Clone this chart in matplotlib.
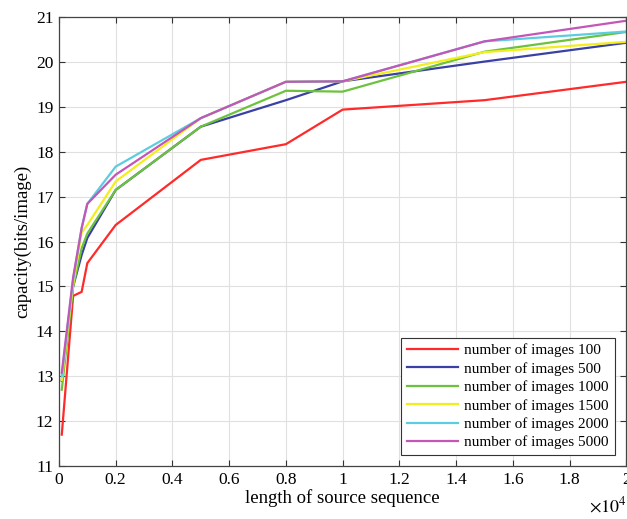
import matplotlib
matplotlib.use("Agg")
import matplotlib.pyplot as plt
import numpy as np

plt.rcParams['font.family'] = ['Liberation Serif', 'DejaVu Serif']
plt.rcParams['mathtext.fontset'] = 'stix'

x_len = [100, 500, 800, 1000, 2000, 5000, 8000, 10000, 15000, 20000]

cap_100 = [11.70, 14.79, 14.88, 15.52, 16.37, 17.82, 18.17, 18.94, 19.15, 19.56]
cap_500 = [12.90, 15.00, 15.70, 16.08, 17.15, 18.56, 19.15, 19.57, 20.01, 20.43]
cap_1000 = [12.70, 15.00, 15.85, 16.18, 17.15, 18.56, 19.36, 19.34, 20.23, 20.67]
cap_1500 = [12.92, 15.05, 16.20, 16.37, 17.34, 18.75, 19.56, 19.57, 20.22, 20.45]
cap_2000 = [13.00, 15.15, 16.30, 16.84, 17.67, 18.75, 19.56, 19.57, 20.46, 20.68]
cap_5000 = [13.08, 15.20, 16.30, 16.84, 17.49, 18.75, 19.56, 19.57, 20.46, 20.92]

labels = ["number of images 100", "number of images 500", "number of images 1000",
          "number of images 1500", "number of images 2000", "number of images 5000"]
colors = ["#ff2a2a", "#3a40a4", "#6cc23c", "#f2ee1c", "#5ccde0", "#c456b8"]
series = [cap_100, cap_500, cap_1000, cap_1500, cap_2000, cap_5000]

fig = plt.figure(figsize=(6.27, 5.19), dpi=100)
ax = fig.add_axes([0.094, 0.102, 0.905, 0.865])

xs = np.array(x_len) / 1e4
for ys, c, lab in zip(series, colors, labels):
    ax.plot(xs, ys, color=c, lw=1.6, label=lab)

ax.set_xlim(0, 2)
ax.set_ylim(11, 21)
ax.set_xticks(np.arange(0, 2.01, 0.2))
ax.set_xticklabels(["0", "0.2", "0.4", "0.6", "0.8", "1", "1.2", "1.4", "1.6", "1.8", "2"])
ax.set_yticks(np.arange(11, 22, 1))
ax.grid(True, color="#e0e0e0", lw=0.8)
ax.tick_params(direction="in", top=True, right=True, labelsize=12.5, length=4,
               color="#333333", pad=4)
for s in ax.spines.values():
    s.set_color("#444444")
    s.set_linewidth(0.9)

ax.set_xlabel("length of source sequence", fontsize=13.5, labelpad=1)
ax.set_ylabel("capacity(bits/image)", fontsize=13.5, labelpad=3)

fig.text(0.94, 0.006, r"$\times10^4$", fontsize=13, ha="left", va="bottom")

leg = ax.legend(loc="lower right", fontsize=11, frameon=True, fancybox=False,
                framealpha=1, edgecolor="#333333", handlelength=3.3,
                borderaxespad=0.7, labelspacing=0.3, handletextpad=0.4,
                borderpad=0.4, bbox_to_anchor=(0.998, 0.0))
leg.get_frame().set_linewidth(0.8)

fig.savefig("out.png", dpi=100)
